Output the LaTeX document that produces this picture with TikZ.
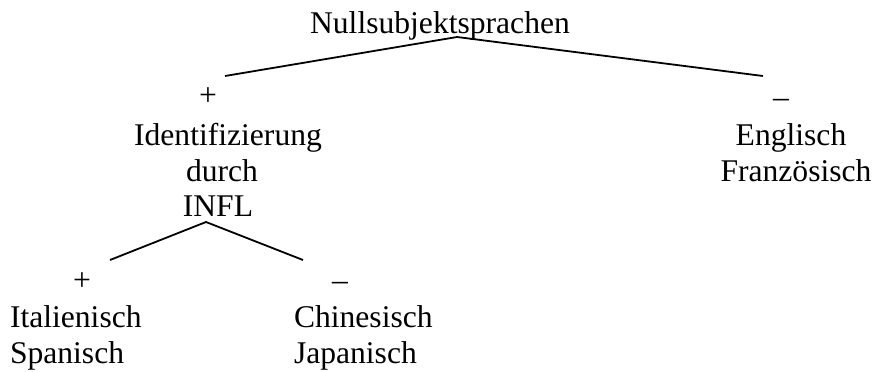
\documentclass[tikz,border=0pt]{standalone}
\usepackage{fontspec}
\setmainfont{Liberation Serif}
\begin{document}
\begin{tikzpicture}[x=1pt,y=-1pt,
  lbl/.style={inner sep=0pt,outer sep=0pt,font=\fontsize{31.6}{36}\selectfont},
  branch/.style={line width=1.8pt}]
\useasboundingbox (0,0) rectangle (873,372);
% text
\node[lbl,anchor=base] (root) at (440,33) {Nullsubjektsprachen};
\node[lbl,anchor=center] (plusA) at (208,97) {+};
\node[lbl,anchor=base] (minusA) at (781,107) {–};
\node[lbl,anchor=base] (ident) at (228,145) {Identifizierung};
\node[lbl,anchor=base] (durch) at (222,181) {durch};
\node[lbl,anchor=base] (infl) at (218,216) {INFL};
\node[lbl,anchor=base] (engl) at (791,145) {Englisch};
\node[lbl,anchor=base] (franz) at (796,181) {Französisch};
\node[lbl,anchor=center] (plusB) at (82,282) {+};
\node[lbl,anchor=base] (minusB) at (340,290) {–};
\node[lbl,anchor=base west] (ital) at (10,327) {Italienisch};
\node[lbl,anchor=base west] (span) at (10,363) {Spanisch};
\node[lbl,anchor=base west] (chin) at (294,327) {Chinesisch};
\node[lbl,anchor=base west] (jap) at (294,363) {Japanisch};
% branch points
\coordinate (rootApex) at (457,37);
\coordinate (rootL) at (225,76);
\coordinate (rootR) at (763,76);
\coordinate (inflApex) at (206,222);
\coordinate (inflL) at (110,260);
\coordinate (inflR) at (303,260);
\draw[branch] (rootL) -- (rootApex) -- (rootR);
\draw[branch] (inflL) -- (inflApex) -- (inflR);
\end{tikzpicture}
\end{document}
